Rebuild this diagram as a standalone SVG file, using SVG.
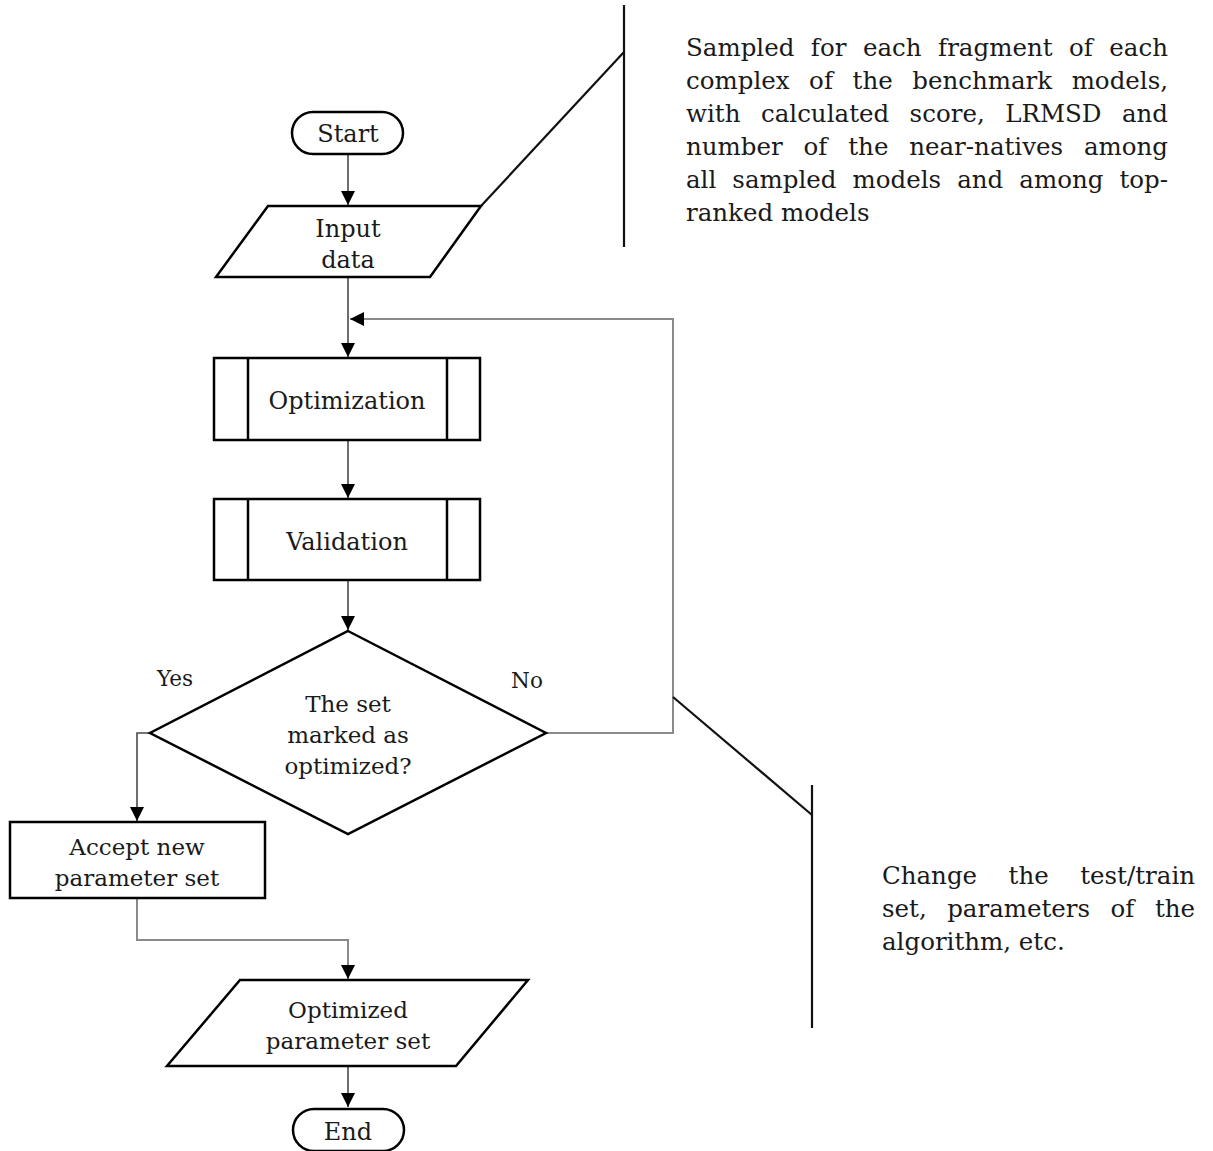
<svg xmlns="http://www.w3.org/2000/svg" width="1213" height="1151" viewBox="0 0 1213 1151">
<style>
.shape{fill:#fff;stroke:#000;stroke-width:2.5}
.t{font-family:"DejaVu Serif","Liberation Serif",serif;font-size:24px;fill:#1a1a1a;text-anchor:middle}
.t2{font-family:"DejaVu Serif","Liberation Serif",serif;font-size:23px;fill:#1a1a1a;text-anchor:middle}
.lbl{font-family:"DejaVu Serif","Liberation Serif",serif;font-size:21.5px;fill:#1a1a1a;text-anchor:middle}
.ann{font-family:"DejaVu Serif","Liberation Serif",serif;font-size:24.5px;fill:#1a1a1a}
.c1{fill:none;stroke:#4a4a4a;stroke-width:1.6}
.c2{fill:none;stroke:#8a8a8a;stroke-width:2}
.al{fill:none;stroke:#111;stroke-width:2.2}
</style>
<defs>
<marker id="ah" markerUnits="userSpaceOnUse" markerWidth="14" markerHeight="14" viewBox="0 0 14 14" refX="14" refY="7" orient="auto">
<path d="M0,0 L14,7 L0,14 Z" fill="#000"/>
</marker>
</defs>
<g id="connectors">
<path class="c1" d="M348,154 V205" marker-end="url(#ah)"/>
<path class="c1" d="M348,278 V357" marker-end="url(#ah)"/>
<path class="c2" d="M546,733 H673 V319 H350" marker-end="url(#ah)"/>
<path class="c1" d="M348,441 V498" marker-end="url(#ah)"/>
<path class="c1" d="M348,581 V630" marker-end="url(#ah)"/>
<path class="c1" d="M150,733 H137 V821" marker-end="url(#ah)"/>
<path class="c2" d="M137,899 V940 H348 V979" marker-end="url(#ah)"/>
<path class="c1" d="M348,1067 V1107" marker-end="url(#ah)"/>
</g>
<g id="start">
<rect class="shape" x="292" y="112" width="111" height="42" rx="21"/>
<text class="t" x="348" y="142">Start</text>
</g>
<g id="input-data">
<polygon class="shape" points="268,206 481,206 430,277 216,277"/>
<text class="t" x="348" y="237">Input</text>
<text class="t" x="348" y="268">data</text>
</g>
<g id="optimization">
<rect class="shape" x="214" y="358" width="266" height="82"/>
<line class="shape" x1="248" y1="358" x2="248" y2="440"/>
<line class="shape" x1="447" y1="358" x2="447" y2="440"/>
<text class="t" x="347" y="409">Optimization</text>
</g>
<g id="validation">
<rect class="shape" x="214" y="499" width="266" height="81"/>
<line class="shape" x1="248" y1="499" x2="248" y2="580"/>
<line class="shape" x1="447" y1="499" x2="447" y2="580"/>
<text class="t" x="347" y="550">Validation</text>
</g>
<g id="decision">
<polygon class="shape" points="348,631 546,733 348,834 150,733"/>
<text class="t2" x="348" y="712">The set</text>
<text class="t2" x="348" y="743">marked as</text>
<text class="t2" x="348" y="774">optimized?</text>
<text class="lbl" x="175" y="686">Yes</text>
<text class="lbl" x="527" y="688">No</text>
</g>
<g id="accept">
<rect class="shape" x="10" y="822" width="255" height="76"/>
<text class="t2" x="137" y="855">Accept new</text>
<text class="t2" x="137" y="886">parameter set</text>
</g>
<g id="optimized-set">
<polygon class="shape" points="240,980 528,980 456,1066 167,1066"/>
<text class="t2" x="348" y="1018">Optimized</text>
<text class="t2" x="348" y="1049">parameter set</text>
</g>
<g id="end">
<rect class="shape" x="293" y="1109" width="111" height="42" rx="21"/>
<text class="t" x="348" y="1140">End</text>
</g>
<g id="annotation-input">
<line class="al" x1="624" y1="5" x2="624" y2="247"/>
<line class="al" x1="481" y1="206" x2="624" y2="52"/>
<text class="ann" x="686" y="56" word-spacing="8.7" textLength="482" lengthAdjust="spacing">Sampled for each fragment of each</text>
<text class="ann" x="686" y="89" word-spacing="11.8" textLength="482" lengthAdjust="spacing">complex of the benchmark models,</text>
<text class="ann" x="686" y="122" word-spacing="12.6" textLength="482" lengthAdjust="spacing">with calculated score, LRMSD and</text>
<text class="ann" x="686" y="155" word-spacing="13.1" textLength="482" lengthAdjust="spacing">number of the near-natives among</text>
<text class="ann" x="686" y="188" word-spacing="8.3" textLength="482" lengthAdjust="spacing">all sampled models and among top-</text>
<text class="ann" x="686" y="221">ranked models</text>
</g>
<g id="annotation-loop">
<line class="al" x1="673" y1="697" x2="812" y2="815"/>
<line class="al" x1="812" y1="785" x2="812" y2="1028"/>
<text class="ann" x="882" y="884" word-spacing="23.7" textLength="313" lengthAdjust="spacing">Change the test/train</text>
<text class="ann" x="882" y="917" word-spacing="12.7" textLength="313" lengthAdjust="spacing">set, parameters of the</text>
<text class="ann" x="882" y="950">algorithm, etc.</text>
</g>
</svg>
